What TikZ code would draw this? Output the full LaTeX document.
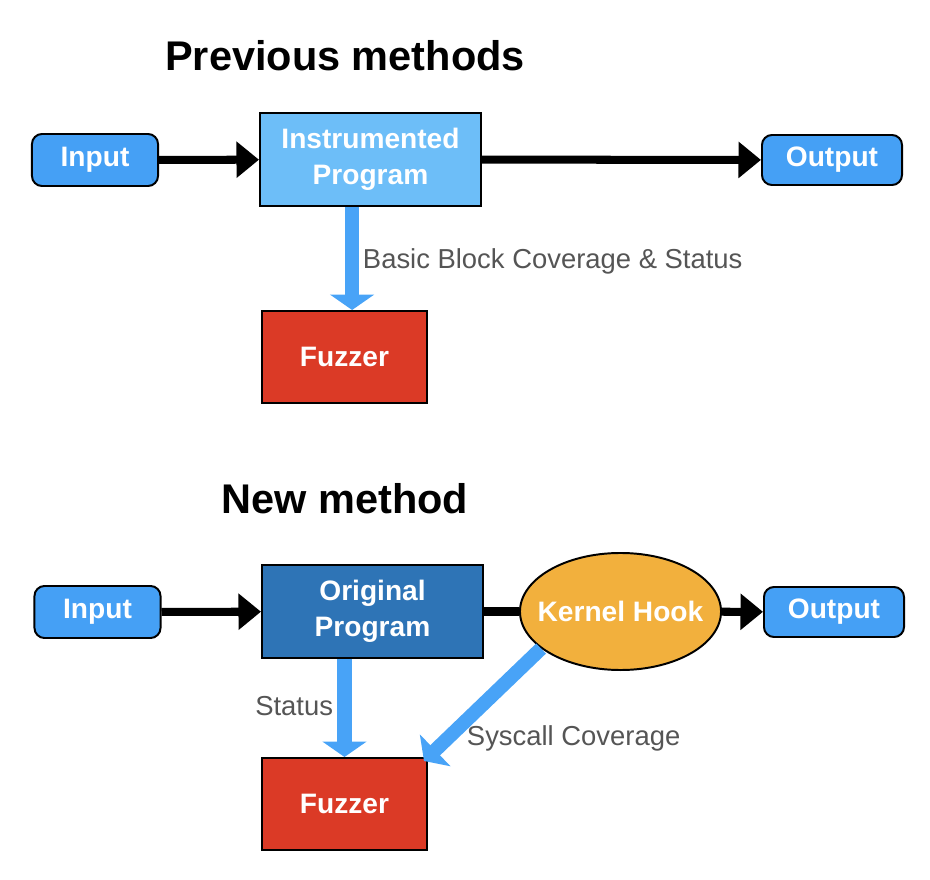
\documentclass[tikz,border=0pt]{standalone}
\usepackage{fontspec}
\setmainfont{Liberation Sans}
\usetikzlibrary{shapes.geometric,arrows.meta}
\definecolor{ioblue}{HTML}{45A0F5}
\definecolor{instrblue}{HTML}{6DBEF8}
\definecolor{origblue}{HTML}{2E74B6}
\definecolor{fuzzred}{HTML}{DB3A26}
\definecolor{hookorange}{HTML}{F2B03D}
\definecolor{arrblue}{HTML}{48A3F7}
\definecolor{labgray}{HTML}{555555}
\newcommand{\boxfont}{\bfseries\fontsize{20}{25.6}\selectfont}
\tikzstyle{iobox} = [rectangle, rounded corners = 0.25cm, draw, line width = 1.4pt, fill = ioblue, text = white, font = \boxfont, minimum width = 3.15cm, minimum height = 1.3cm]
\tikzstyle{progbox} = [rectangle, draw, line width = 1.4pt, text = white, font = \boxfont, align = center, minimum width = 5.525cm, minimum height = 2.325cm]
\tikzstyle{fuzzbox} = [rectangle, draw, line width = 1.4pt, fill = fuzzred, text = white, font = \boxfont, minimum width = 4.125cm, minimum height = 2.3cm]
\tikzstyle{hookell} = [ellipse, draw, line width = 1.4pt, fill = hookorange, text = white, font = \boxfont, inner xsep = -0.35cm, minimum width = 5.025cm, minimum height = 2.925cm]
\tikzstyle{title} = [font = \bfseries\fontsize{29.5}{34}\selectfont]
\tikzstyle{lab} = [text = labgray, font = \fontsize{19.5}{23}\selectfont]
\tikzstyle{blackarr} = [line width = 5.7pt, -{Triangle[length = 16pt, width = 25pt]}]
\tikzstyle{bluearr} = [draw = arrblue, line width = 10pt, -{Triangle[length = 11pt, width = 31pt]}]

\begin{document}
\begin{tikzpicture}[x = 0.025cm, y = -0.025cm]
  \useasboundingbox (0, 0) rectangle (930, 880);
  \node[title] (prevtitle) at (345, 56) {Previous methods};
  \node[iobox] (in1) at (95, 160) {Input};
  \node[progbox, fill = instrblue] (instr) at (370.5, 159.5) {Instrumented\\Program};
  \node[iobox, minimum width = 3.5cm, minimum height = 1.25cm] (out1) at (832, 160) {Output};
  \node[fuzzbox] (fuzz1) at (344.5, 357) {Fuzzer};
  \draw[blackarr] (in1) -- (instr);
  \draw[blackarr] (instr) -- (out1);
  \draw[bluearr] ([xshift = 0.19cm]fuzz1.north |- instr.south) -- ([xshift = 0.19cm]fuzz1.north);
  \node[lab, anchor = west] (bbcov) at (358, 261) {Basic Block Coverage \& Status};

  \node[title] (newtitle) at (345, 499) {New method};
  \node[iobox] (in2) at (97.5, 612) {Input};
  \node[progbox, fill = origblue] (orig) at (372.5, 611.5) {Original\\Program};
  \node[hookell] (hook) at (620.5, 611.5) {Kernel Hook};
  \node[iobox, minimum width = 3.5cm, minimum height = 1.25cm] (out2) at (834, 612) {Output};
  \node[fuzzbox] (fuzz2) at (344.5, 804) {Fuzzer};
  \draw[blackarr] (in2) -- (orig);
  \draw[line width = 5.7pt] (orig) -- (hook);
  \draw[blackarr] (hook) -- (out2);
  \draw[bluearr] (fuzz2.north |- orig.south) -- (fuzz2.north);
  \draw[bluearr] (hook.205) -- ([xshift = -0.1cm, yshift = -0.1cm]fuzz2.north east);
  \node[lab, anchor = east] (status) at (338, 706) {Status};
  \node[lab, anchor = west] (syscov) at (462, 738) {Syscall Coverage};
\end{tikzpicture}
\end{document}
